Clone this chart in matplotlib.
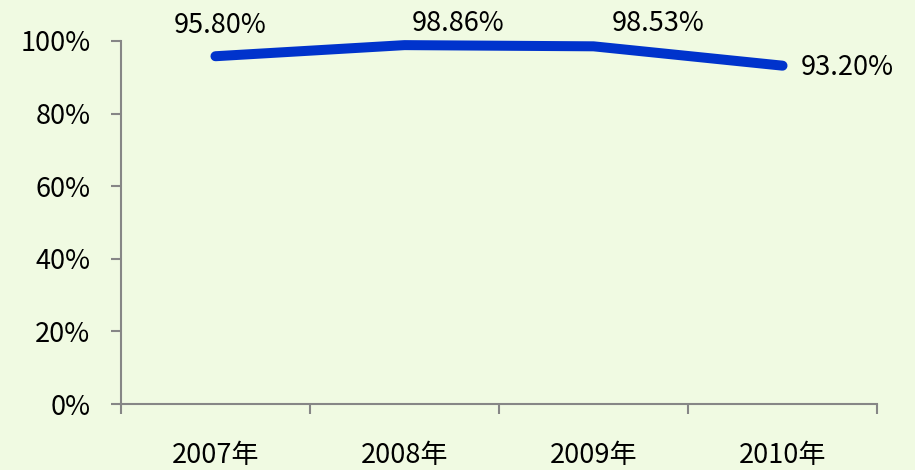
import matplotlib
matplotlib.use('Agg')
import matplotlib.pyplot as plt
from matplotlib.ticker import FixedLocator, PercentFormatter

plt.rcParams['font.family'] = ['Noto Sans CJK SC', 'DejaVu Sans']

years = ['2007年', '2008年', '2009年', '2010年']
rates = [95.80, 98.86, 98.53, 93.20]
labels = ['95.80%', '98.86%', '98.53%', '93.20%']
y_ticks = [0, 20, 40, 60, 80, 100]

# label offsets in pixels, as placed in the original chart
offsets = [(5, 31, 'center'), (54, 22, 'center'), (65, 23, 'center'), (18, -2, 'left')]

bg = '#f0fae2'
axis_col = '#868686'

fig = plt.figure(figsize=(9.15, 4.7), dpi=100, facecolor=bg)
ax = fig.add_axes([0.1322, 0.1404, 0.8263, 0.7724], facecolor=bg)

x = list(range(len(years)))
ax.plot(x, rates, color='#0033cc', lw=7.2, solid_capstyle='round',
        solid_joinstyle='round', clip_on=False)

for xi, yi, lab, (dx, dy, ha) in zip(x, rates, labels, offsets):
    ax.annotate(lab, (xi, yi), xytext=(dx, dy), textcoords='offset pixels',
                ha=ha, va='center', fontsize=19.5, color='black')

ax.set_xlim(-0.5, 3.5)
ax.set_ylim(0, 100)
ax.set_yticks(y_ticks)
ax.yaxis.set_major_formatter(PercentFormatter(decimals=0))
ax.set_xticks(x)
ax.set_xticklabels(years)
ax.xaxis.set_minor_locator(FixedLocator([-0.5, 0.5, 1.5, 2.5, 3.5]))

for s in ['top', 'right']:
    ax.spines[s].set_visible(False)
for s in ['left', 'bottom']:
    ax.spines[s].set_color(axis_col)
    ax.spines[s].set_linewidth(1.5)

ax.tick_params(axis='y', length=7, width=1.5, color=axis_col, labelsize=19.5, pad=15)
ax.tick_params(axis='x', which='major', length=0, labelsize=19.5, pad=27)
ax.tick_params(axis='x', which='minor', length=7, width=1.5, color=axis_col)

fig.savefig('out.png', dpi=100, facecolor=bg)
